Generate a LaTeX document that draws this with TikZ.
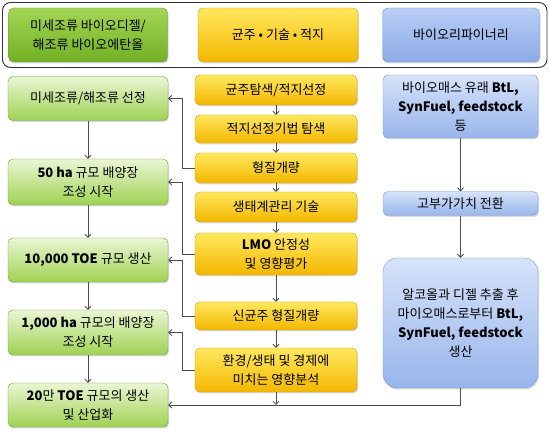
\documentclass[tikz,border=0pt]{standalone}
\usepackage{fontspec}
\setmainfont{Noto Sans CJK KR}
\usetikzlibrary{arrows.meta,shadows}
\definecolor{gHeadTop}{HTML}{A2D655}
\definecolor{gHeadBot}{HTML}{72B024}
\definecolor{gLine}{HTML}{6E9B36}
\definecolor{gBoxTop}{HTML}{EAF6D4}
\definecolor{gBoxBot}{HTML}{9ED252}
\definecolor{yTop}{HTML}{FFE85E}
\definecolor{yBot}{HTML}{F3B700}
\definecolor{yLine}{HTML}{D29E00}
\definecolor{bHeadTop}{HTML}{B8CEF6}
\definecolor{bHeadBot}{HTML}{8CAAE6}
\definecolor{bLine}{HTML}{7D99CC}
\definecolor{bBoxTop}{HTML}{D6E3FA}
\definecolor{bBoxBot}{HTML}{98B5EB}
\begin{document}
\begin{tikzpicture}[x=1pt,y=-1pt,
  font=\fontsize{13}{19}\selectfont,
  box/.style={rounded corners=5pt,align=center,inner sep=1pt,
    drop shadow={shadow xshift=1pt,shadow yshift=-1.5pt,opacity=0.3}},
  ghead/.style={box,draw=gLine,top color=gHeadTop,bottom color=gHeadBot,
    minimum width=159pt,minimum height=54pt},
  gbox/.style={box,draw=gLine,top color=gBoxTop,bottom color=gBoxBot,
    minimum width=160pt,minimum height=44pt},
  ybox/.style={box,draw=yLine,top color=yTop,bottom color=yBot,
    minimum width=162pt},
  bhead/.style={box,draw=bLine,top color=bHeadTop,bottom color=bHeadBot,
    minimum width=157pt,minimum height=54pt},
  bbox/.style={box,draw=bLine,top color=bBoxTop,bottom color=bBoxBot,
    minimum width=155pt},
  arr/.style={draw=black!70,line width=0.8pt,-{Straight Barb[length=3pt,width=6pt]}}]
\useasboundingbox (0,0) rectangle (550,430);
% header frame
\draw[black!80,line width=0.9pt,rounded corners=8pt,fill=white] (2.5,2.5) rectangle (547,67.5);
\node[ghead] (gh) at (88,35) {미세조류 바이오디젤/\\해조류 바이오에탄올};
\node[ghead,draw=yLine,top color=yTop,bottom color=yBot,minimum width=160pt] (yh) at (278,35) {균주 • 기술 • 적지};
\node[bhead] (bh) at (461,35) {바이오리파이너리};
% green column
\node[gbox] (g1) at (88,98.5) {미세조류/해조류 선정};
\node[gbox,minimum height=46pt] (g2) at (88,182) {\textbf{50 ha} 규모 배양장\\조성 시작};
\node[gbox] (g3) at (88,260) {\textbf{10,000 TOE} 규모 생산};
\node[gbox,minimum height=45pt] (g4) at (88,332.5) {\textbf{1,000 ha} 규모의 배양장\\조성 시작};
\node[gbox] (g5) at (88,405) {\textbf{20}만 \textbf{TOE} 규모의 생산\\및 산업화};
% yellow column
\node[ybox,minimum height=30pt] (y1) at (276,90) {균주탐색/적지선정};
\node[ybox,minimum height=28pt] (y2) at (276,129) {적지선정기법 탐색};
\node[ybox,minimum height=30pt] (y3) at (276,168) {형질개량};
\node[ybox,minimum height=30pt] (y4) at (276,207) {생태계관리 기술};
\node[ybox,minimum height=42pt] (y5) at (276,254) {\textbf{LMO} 안정성\\및 영향평가};
\node[ybox,minimum height=28pt] (y6) at (276,316) {신균주 형질개량};
\node[ybox,minimum height=44pt] (y7) at (276,370) {환경/생태 및 경제에\\미치는 영향분석};
% blue column
\node[bbox,minimum height=63pt] (b1) at (460.5,106.5) {바이오매스 유래 \textbf{BtL,}\\\textbf{SynFuel, feedstock}\\등};
\node[bbox,minimum height=24pt] (b2) at (460.5,203.5) {고부가가치 전환};
\node[bbox,minimum height=130pt,rounded corners=14pt] (b3) at (460.5,323) {알코올과 디젤 추출 후\\마이오매스로부터 \textbf{BtL,}\\\textbf{SynFuel, feedstock}\\생산};
% arrows
\foreach \a/\b in {g1/g2,g2/g3,g3/g4,g4/g5,y1/y2,y2/y3,y3/y4,y4/y5,y5/y6,y6/y7,b1/b2,b2/b3}
  \draw[arr] (\a.south) -- (\b.north);
\draw[arr] (y3.west) -- ++(-12,0) |- (g1.east);
\draw[arr] (y5.west) -- ++(-12,0) |- (g2.east);
\draw[arr] (y6.west) -- ++(-12,0) |- (g3.east);
\draw[arr] (y7.west) -- ++(-12,0) |- (g4.east);
\draw[arr] (b3.south) |- (g5.east);
\draw[arr] (y7.south) -- (y7.south |- g5.east);
\end{tikzpicture}
\end{document}
